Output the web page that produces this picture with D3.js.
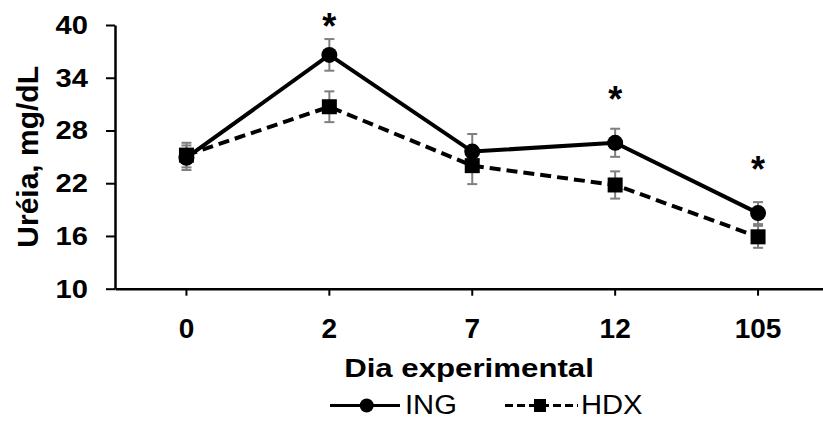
<!DOCTYPE html>
<html>
<head>
<meta charset="utf-8">
<script src="https://cdn.jsdelivr.net/npm/d3@7"></script>
<style>
  html, body { margin: 0; padding: 0; background: #fff; }
  svg { display: block; font-family: Arial, "Liberation Sans", sans-serif; }
</style>
</head>
<body>
<svg id="chart" width="823" height="421"></svg>
<script>
// Experimental day (categories)
const days = ["0", "2", "7", "12", "105"];

// Urea, mg/dL
const ingMean = [24.9, 36.6, 25.6, 26.6, 18.6];
const ingErr  = [1.4, 1.8, 2.0, 1.6, 1.25];
const hdxMean = [25.2, 30.7, 24.0, 21.8, 15.9];
const hdxErr  = [1.4, 1.75, 2.1, 1.55, 1.25];

// level where the "*" sits (null = no significance mark)
const sigLevel = [null, 38.4, null, 30.1, 22.1];

const yTicks = [10, 16, 22, 28, 34, 40];

const chartWidth  = 823;

// Margining parameters
const plotLeft   = 115;
const plotTop    = 25;
const plotBottom = 288.7;
const step       = 142.9;

const errColor = "#7f7f7f";

const svg = d3.select("#chart");

const x = d3.scaleBand()
  .domain(days)
  .range([plotLeft, plotLeft + step * days.length]);
const cx = (d) => x(d) + x.bandwidth() / 2;

const y = d3.scaleLinear()
  .domain([10, 40])
  .range([plotBottom, plotTop]);

// stretch a text horizontally (the source fonts are a bit wider than Arial)
function widen(sel, k) {
  sel.each(function () {
    const len = this.getComputedTextLength();
    d3.select(this)
      .attr("textLength", len * k)
      .attr("lengthAdjust", "spacingAndGlyphs");
  });
}

// Axes
const yAxis = svg.append("g")
  .attr("transform", `translate(${plotLeft},0)`)
  .call(d3.axisLeft(y).tickValues(yTicks).tickSize(9).tickSizeOuter(0).tickPadding(18));

yAxis.select(".domain").attr("stroke", "#000").attr("stroke-width", 2.5);
yAxis.selectAll(".tick line").attr("stroke", "#000").attr("stroke-width", 2);
yAxis.selectAll(".tick text")
  .attr("font-size", "26px")
  .attr("font-weight", "bold")
  .attr("font-family", "Arial, 'Liberation Sans', sans-serif")
  .attr("fill", "#000")
  .call(widen, 1.12);

const xAxis = svg.append("g")
  .attr("transform", `translate(0,${plotBottom})`)
  .call(d3.axisBottom(x).tickSize(7).tickSizeOuter(0));

xAxis.select(".domain").attr("stroke", "#000").attr("stroke-width", 2.5);
xAxis.selectAll(".tick line").attr("stroke", "#000").attr("stroke-width", 2);
xAxis.selectAll(".tick text")
  .attr("y", 49)
  .attr("dy", 0)
  .attr("font-size", "28px")
  .attr("font-weight", "bold")
  .attr("font-family", "Arial, 'Liberation Sans', sans-serif")
  .attr("fill", "#000");

// Axis titles
svg.append("text")
  .attr("x", (plotLeft + chartWidth) / 2)
  .attr("y", 377)
  .attr("text-anchor", "middle")
  .attr("font-size", "26px")
  .attr("font-weight", "bold")
  .text("Dia experimental")
  .call(widen, 1.2);

svg.append("text")
  .attr("transform", `translate(38,${(plotTop + plotBottom) / 2}) rotate(-90)`)
  .attr("text-anchor", "middle")
  .attr("font-size", "30px")
  .attr("font-weight", "bold")
  .text("Uréia, mg/dL");

// Series
const series = [
  {name: "ING", mean: ingMean, err: ingErr, dash: null, shape: "circle"},
  {name: "HDX", mean: hdxMean, err: hdxErr, dash: "11,6", shape: "square"}
];

const line = d3.line()
  .x((d, i) => cx(days[i]))
  .y((d) => y(d));

// error bars first so the markers sit on top
series.forEach((s) => {
  const g = svg.append("g").attr("stroke", errColor).attr("stroke-width", 2);
  s.mean.forEach((m, i) => {
    const px = cx(days[i]);
    const y0 = y(m - s.err[i]);
    const y1 = y(m + s.err[i]);
    g.append("line").attr("x1", px).attr("x2", px).attr("y1", y0).attr("y2", y1);
    g.append("line").attr("x1", px - 5).attr("x2", px + 5).attr("y1", y0).attr("y2", y0);
    g.append("line").attr("x1", px - 5).attr("x2", px + 5).attr("y1", y1).attr("y2", y1);
  });
});

series.slice().reverse().forEach((s) => {
  svg.append("path")
    .datum(s.mean)
    .attr("d", line)
    .attr("fill", "none")
    .attr("stroke", "#000")
    .attr("stroke-width", 4)
    .attr("stroke-dasharray", s.dash);
});

series.slice().reverse().forEach((s) => {
  const pts = svg.append("g").selectAll("mark")
    .data(s.mean)
    .enter();
  if (s.shape === "circle") {
    pts.append("circle")
      .attr("cx", (d, i) => cx(days[i]))
      .attr("cy", (d) => y(d))
      .attr("r", 8)
      .attr("fill", "#000");
  } else {
    pts.append("rect")
      .attr("x", (d, i) => cx(days[i]) - 7.5)
      .attr("y", (d) => y(d) - 7.5)
      .attr("width", 15)
      .attr("height", 15)
      .attr("fill", "#000");
  }
});

// Significance stars
svg.append("g").selectAll("star")
  .data(sigLevel.map((v, i) => ({v, day: days[i]})).filter((d) => d.v !== null))
  .enter()
  .append("text")
  .attr("x", (d) => cx(d.day))
  .attr("y", (d) => y(d.v))
  .attr("text-anchor", "middle")
  .attr("font-size", "36px")
  .attr("font-weight", "bold")
  .text("*");

// Legend
const legendY = 405.5;
const legendText = 414;
const legend = svg.append("g");

legend.append("line")
  .attr("x1", 330).attr("x2", 400)
  .attr("y1", legendY).attr("y2", legendY)
  .attr("stroke", "#000").attr("stroke-width", 3);
legend.append("circle")
  .attr("cx", 366.7).attr("cy", legendY).attr("r", 7).attr("fill", "#000");
legend.append("text")
  .attr("x", 405).attr("y", legendText)
  .attr("font-size", "27px")
  .text(series[0].name)
  .call(widen, 1.08);

legend.append("line")
  .attr("x1", 505).attr("x2", 578)
  .attr("y1", legendY).attr("y2", legendY)
  .attr("stroke", "#000").attr("stroke-width", 3)
  .attr("stroke-dasharray", "8,4");
legend.append("rect")
  .attr("x", 534).attr("y", legendY - 6.5).attr("width", 12).attr("height", 13)
  .attr("fill", "#000");
legend.append("text")
  .attr("x", 581).attr("y", legendText)
  .attr("font-size", "27px")
  .text(series[1].name)
  .call(widen, 1.08);
</script>
</body>
</html>
